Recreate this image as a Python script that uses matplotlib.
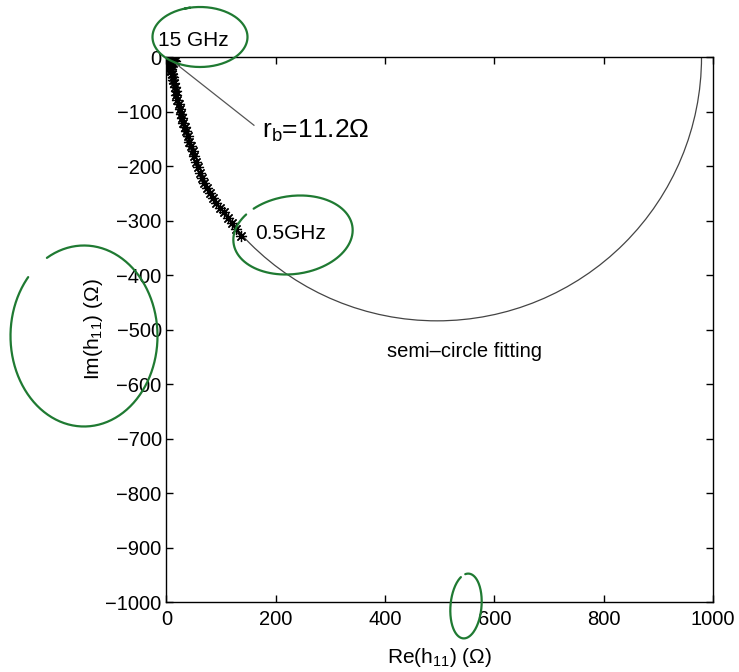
import numpy as np
import matplotlib.pyplot as plt
from matplotlib.patches import Arc

plt.rcParams['font.family'] = ['Liberation Sans', 'DejaVu Sans']
plt.rcParams['mathtext.fontset'] = 'custom'
plt.rcParams['mathtext.rm'] = 'Liberation Sans'
plt.rcParams['mathtext.default'] = 'regular'

# measured h11 points, 15 GHz (top) -> 0.5 GHz (bottom)
re_h11 = [1, 3, 6, 10, 14, 16, 12, 5, 4, 7, 8, 9, 10, 11, 12, 14, 15, 17, 18, 20,
          22, 24, 26, 28, 31, 34, 36, 39, 42, 45, 48, 51, 54, 57, 61, 65, 69,
          74, 79, 85, 91, 98, 105, 112, 120, 128, 136]
im_h11 = [0, -2, -3, -3, -5, -8, -10, -12, -16, -18, -22, -26, -31, -36, -42, -48,
          -55, -62, -70, -78, -86, -95, -104, -112, -120, -128, -136, -145, -155,
          -164, -173, -182, -192, -202, -212, -222, -231, -241, -250, -259, -267,
          -276, -285, -295, -305, -316, -328]

# semi-circle fit
rb = 11.2
re_end = 979.0
xc = (rb + re_end) / 2
rad = (re_end - rb) / 2

fig = plt.figure(figsize=(7.39, 6.72), dpi=100)
ax = fig.add_axes([0.2253, 0.104, 0.7395, 0.811])

ax.add_patch(Arc((xc, 0), 2 * rad, 2 * rad, theta1=180, theta2=360,
                 color='#444444', lw=0.9))
ax.plot(re_h11, im_h11, ls='none', marker=(8, 2, 0), ms=8, mew=0.9,
        color='black')
ax.plot([12, 160], [-8, -125], color='#555555', lw=0.9)

ax.text(175, -135, r'r$_b$=11.2Ω', fontsize=19, va='center')
ax.text(162, -323, '0.5GHz', fontsize=15, va='center')
ax.text(403, -540, 'semi\u2013circle fitting', fontsize=14.5, va='center')
ax.text(-16, 30, '15 GHz', fontsize=15, va='center', clip_on=False)

ax.set_xlim(0, 1000)
ax.set_ylim(-1000, 0)
ax.set_xticks([0, 200, 400, 600, 800, 1000])
ax.set_yticks(np.arange(-1000, 1, 100))
ax.tick_params(direction='in', top=True, right=True, labelsize=14.5,
               length=5, width=1)
ax.tick_params(axis='x', pad=6)
ax.set_xlabel('Re(h$_{11}$) (Ω)', fontsize=15, labelpad=12)
ax.set_ylabel('Im(h$_{11}$) (Ω)', fontsize=15, labelpad=0)
for s in ax.spines.values():
    s.set_linewidth(1.0)

# green hand-drawn marks (pixel coords)
ov = fig.add_axes([0, 0, 1, 1], zorder=10)
ov.set_xlim(0, 739)
ov.set_ylim(672, 0)
ov.axis('off')
ov.patch.set_alpha(0)


def loop(cx, cy, w, h, ang, t0, t1):
    t = np.linspace(t0, t1, 200)
    x = w / 2 * np.cos(t)
    y = h / 2 * np.sin(t)
    a = np.deg2rad(ang)
    ov.plot(cx + x * np.cos(a) - y * np.sin(a), cy + x * np.sin(a) + y * np.cos(a),
            color='#1f7a32', lw=1.6, solid_capstyle='round')


loop(200, 37, 95, 60, 0, -1.9, 4.5)
loop(293, 235, 120, 78, -8, -2.2, 3.9)
loop(84, 336, 147, 181, 0, -2.1, 3.85)
loop(466, 606, 31, 65, 5, -1.8, 4.2)

fig.savefig('out.png', dpi=100)
